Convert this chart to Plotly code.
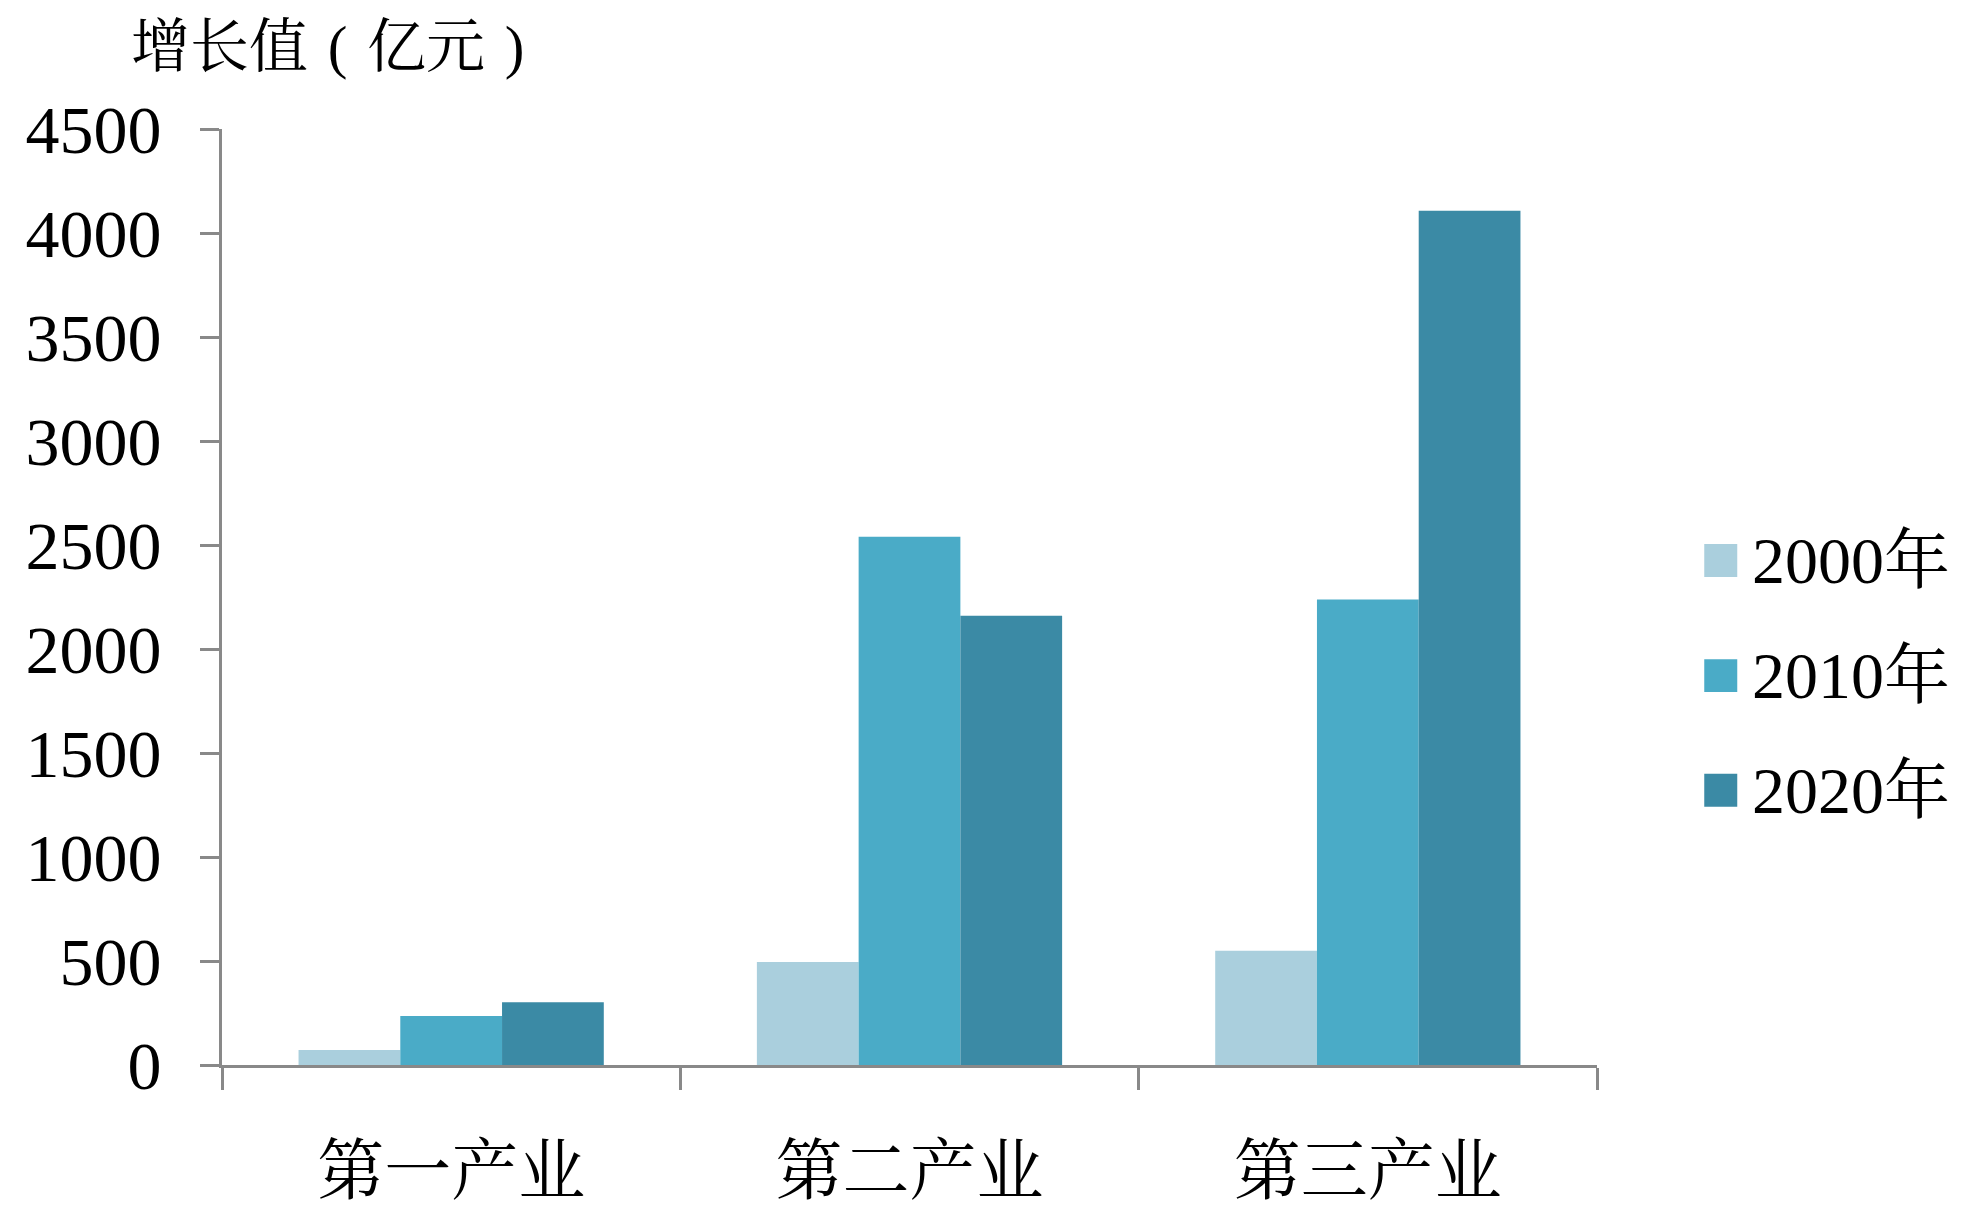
import plotly.graph_objects as go

categories = ["第一产业", "第二产业", "第三产业"]
series_names = ["2000年", "2010年", "2020年"]
values_2000 = [72, 495, 549]
values_2010 = [235, 2540, 2238]
values_2020 = [302, 2160, 4107]
series_values = [values_2000, values_2010, values_2020]
colors = ["#AACFDD", "#4AABC7", "#3B8AA5"]
y_ticks = [0, 500, 1000, 1500, 2000, 2500, 3000, 3500, 4000, 4500]

SERIF = "Liberation Serif, Times New Roman, Noto Serif CJK SC, Noto Sans CJK SC, serif"
AXIS = "#898989"

fig = go.Figure()
for name, vals, col in zip(series_names, series_values, colors):
    fig.add_trace(go.Bar(x=categories, y=vals, name=name, marker=dict(color=col, line=dict(width=0)),
                         showlegend=False))

# manual legend (large square swatches)
leg_y = [0.539, 0.416, 0.2935]
for name, col, yy in zip(series_names, colors, leg_y):
    fig.add_shape(type="rect", xref="paper", yref="paper",
                  x0=1.078, x1=1.102, y0=yy - 0.0176, y1=yy + 0.0176,
                  fillcolor=col, line=dict(width=0))
    fig.add_annotation(text=name, xref="paper", yref="paper", x=1.111, y=yy,
                       xanchor="left", yanchor="middle", showarrow=False,
                       font=dict(family=SERIF, size=66, color="black"))

fig.add_annotation(text="增长值\u2004(\u2004亿元\u2004)", xref="paper", yref="paper",
                   x=-0.068, y=1.088, xanchor="left", yanchor="middle", showarrow=False,
                   font=dict(family=SERIF, size=59, color="black"))

fig.update_layout(
    width=1969, height=1228,
    margin=dict(l=214, r=380, t=121, b=171),
    paper_bgcolor="white", plot_bgcolor="white",
    barmode="group", bargap=0.334, bargroupgap=0,
    font=dict(family=SERIF, color="black"),
)
fig.update_yaxes(range=[0, 4500], tickvals=y_ticks, showgrid=False, zeroline=False,
                 showline=True, linecolor=AXIS, linewidth=3,
                 ticks="outside", ticklen=19, tickwidth=3, tickcolor=AXIS,
                 tickfont=dict(family=SERIF, size=68, color="black"),
                 ticklabelstandoff=25)
fig.update_xaxes(type="category", tickson="boundaries", showgrid=False, zeroline=False,
                 showline=True, linecolor=AXIS, linewidth=3,
                 ticks="outside", ticklen=22, tickwidth=3, tickcolor=AXIS,
                 tickfont=dict(family=SERIF, size=67, color="black"),
                 ticklabelstandoff=46)

fig.write_html("out.html")
